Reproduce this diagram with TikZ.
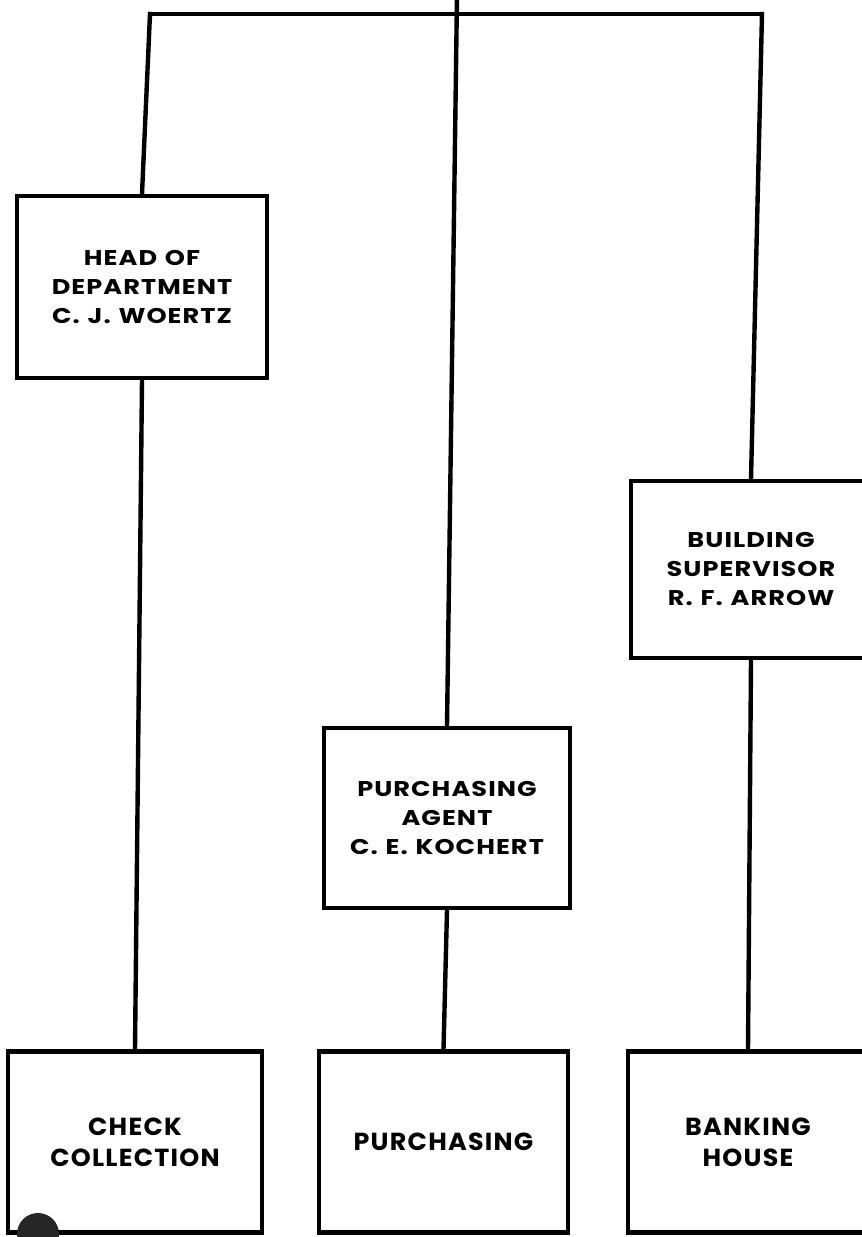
\documentclass[tikz,border=0pt]{standalone}
\usepackage{fontspec}
\setmainfont{Poppins}
\newfontfamily\headfont[FakeStretch=1.2,LetterSpace=5,WordSpace=1.2]{Poppins}
\newfontfamily\unitfont[FakeStretch=1.03,LetterSpace=5]{Poppins}
\begin{document}
\begin{tikzpicture}[x=0.75pt,y=-0.75pt,
  line/.style={line width=3.3pt,line cap=rect},
  unit/.style={draw,line width=3.3pt,rectangle,inner sep=0pt,align=center,
    font=\headfont\fontsize{16}{21.75}\selectfont\bfseries},
  lower/.style={unit,font=\unitfont\fontsize{18.5}{23}\selectfont\bfseries}]
  \useasboundingbox (0,0) rectangle (862,1237);
  \begin{scope}
  \clip (0,0) rectangle (862,1237);
  % Upper management boxes
  \node[unit,minimum width=250*0.75pt,minimum height=182*0.75pt] (head) at (142,287)
    {HEAD OF\\DEPARTMENT\\C. J. WOERTZ};
  \node[unit,minimum width=240*0.75pt,minimum height=177*0.75pt] (bldg) at (751,569.5)
    {BUILDING\\SUPERVISOR\\R. F. ARROW};
  \node[unit,minimum width=246*0.75pt,minimum height=180*0.75pt] (agent) at (447,818)
    {PURCHASING\\AGENT\\C. E. KOCHERT};
  % Operating units
  \node[lower,minimum width=254*0.75pt,minimum height=181*0.75pt] (check) at (135,1142)
    {CHECK\\COLLECTION};
  \node[lower,minimum width=249*0.75pt,minimum height=181*0.75pt] (purch) at (443.5,1142)
    {PURCHASING};
  \node[lower,minimum width=240*0.75pt,minimum height=181*0.75pt] (bank) at (748,1142)
    {BANKING\\HOUSE};
  % Distribution bar and feeds
  \coordinate (top) at (457,-5);
  \coordinate (barL) at (150,14);
  \coordinate (barR) at (762,14);
  \draw[line] (barL) -- (barR);
  \draw[line] (top) -- (agent.north);
  \draw[line] (barL) -- (head.north);
  \draw[line] (barR) -- (bldg.north);
  \draw[line] (head.south) -- (check.north);
  \draw[line] (agent.south) -- (purch.north);
  \draw[line] (bldg.south) -- (bank.north);
  % dark spot on the lower left corner
  \fill[black!85] (38,1234) circle (21*0.75pt);
  \end{scope}
\end{tikzpicture}
\end{document}
